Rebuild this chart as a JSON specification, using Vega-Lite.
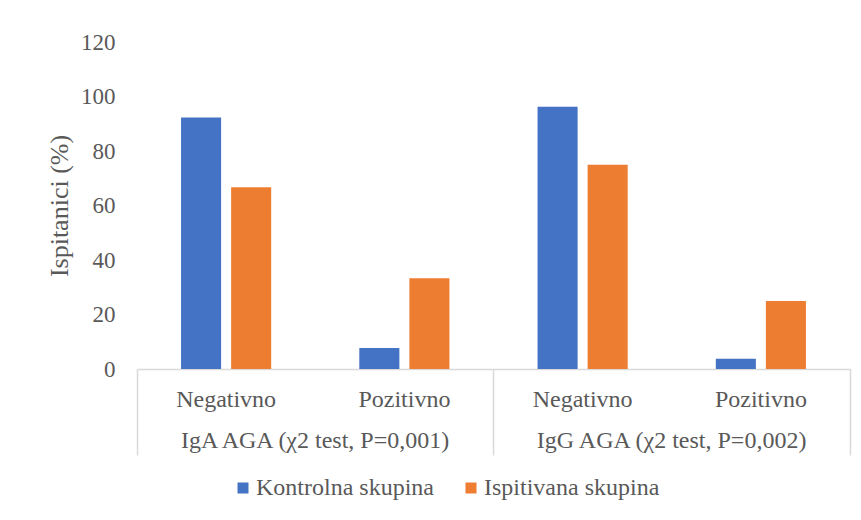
{
  "$schema": "https://vega.github.io/schema/vega-lite/v6.json",
  "width": 713,
  "height": 327,
  "autosize": {"type": "none"},
  "padding": {"left": 137, "top": 42, "right": 11, "bottom": 151},
  "background": "white",
  "config": {
    "font": "Liberation Serif",
    "view": {"stroke": null},
    "axis": {
      "labelFont": "Liberation Serif",
      "labelFontSize": 24,
      "labelColor": "#595959",
      "titleFont": "Liberation Serif",
      "titleFontSize": 26,
      "titleColor": "#595959",
      "titleFontWeight": "normal",
      "domainColor": "#D9D9D9",
      "tickColor": "#D9D9D9"
    },
    "legend": {
      "labelFont": "Liberation Serif",
      "labelFontSize": 24,
      "labelColor": "#595959"
    }
  },
  "data": {
    "values": [
      {"kategorija": "IgA AGA (χ2 test, P=0,001)|Negativno", "skupina": "Kontrolna skupina", "postotak": 92.3},
      {"kategorija": "IgA AGA (χ2 test, P=0,001)|Negativno", "skupina": "Ispitivana skupina", "postotak": 66.7},
      {"kategorija": "IgA AGA (χ2 test, P=0,001)|Pozitivno", "skupina": "Kontrolna skupina", "postotak": 7.7},
      {"kategorija": "IgA AGA (χ2 test, P=0,001)|Pozitivno", "skupina": "Ispitivana skupina", "postotak": 33.3},
      {"kategorija": "IgG AGA (χ2 test, P=0,002)|Negativno", "skupina": "Kontrolna skupina", "postotak": 96.2},
      {"kategorija": "IgG AGA (χ2 test, P=0,002)|Negativno", "skupina": "Ispitivana skupina", "postotak": 75.0},
      {"kategorija": "IgG AGA (χ2 test, P=0,002)|Pozitivno", "skupina": "Kontrolna skupina", "postotak": 3.8},
      {"kategorija": "IgG AGA (χ2 test, P=0,002)|Pozitivno", "skupina": "Ispitivana skupina", "postotak": 25.0}
    ]
  },
  "encoding": {
    "y": {
      "field": "postotak",
      "type": "quantitative",
      "stack": null,
      "scale": {"domain": [0, 120], "nice": false},
      "axis": {
        "title": "Ispitanici (%)",
        "values": [0, 20, 40, 60, 80, 100, 120],
        "grid": false,
        "domain": false,
        "ticks": false,
        "tickSize": 0,
        "labelFontSize": 23,
        "labelPadding": 22,
        "titlePadding": 8
      }
    }
  },
  "layer": [
    {
      "mark": {"type": "bar"},
      "encoding": {
        "x": {
          "field": "kategorija",
          "type": "nominal",
          "sort": null,
          "scale": {"paddingInner": 0, "paddingOuter": 0},
          "axis": {
            "orient": "bottom",
            "title": null,
            "labelExpr": "split(datum.value, '|')[1]",
            "labelAngle": 0,
            "ticks": false,
            "tickSize": 0,
            "domain": true,
            "domainWidth": 1.5,
            "labelPadding": 18,
            "labelLimit": 0
          }
        },
        "xOffset": {
          "field": "skupina",
          "type": "nominal",
          "scale": {"domain": ["Kontrolna skupina", "Ispitivana skupina"], "paddingInner": 0.2, "paddingOuter": 0.88}
        },
        "color": {
          "field": "skupina",
          "type": "nominal",
          "scale": {"domain": ["Kontrolna skupina", "Ispitivana skupina"], "range": ["#4472C4", "#ED7D31"]},
          "legend": {
            "title": null,
            "orient": "none",
            "direction": "horizontal",
            "legendX": 94,
            "legendY": 434,
            "symbolType": "square",
            "symbolSize": 121,
            "symbolStrokeWidth": 0,
            "labelOffset": 1,
            "columnPadding": 25,
            "labelLimit": 0
          }
        }
      }
    },
    {
      "mark": {"type": "bar", "opacity": 0},
      "encoding": {
        "x": {
          "field": "kategorija",
          "type": "nominal",
          "sort": null,
          "scale": {"paddingInner": 0, "paddingOuter": 0},
          "axis": {
            "orient": "bottom",
            "title": null,
            "values": ["IgA AGA (χ2 test, P=0,001)|Negativno", "IgG AGA (χ2 test, P=0,002)|Negativno"],
            "labelExpr": "split(datum.value, '|')[0]",
            "labelAngle": 0,
            "labelAlign": "center",
            "labelOffset": 89,
            "ticks": false,
            "tickSize": 0,
            "domain": false,
            "labelPadding": 59,
            "labelLimit": 0
          }
        }
      }
    },
    {
      "mark": {"type": "bar", "opacity": 0},
      "encoding": {
        "x": {
          "field": "kategorija",
          "type": "nominal",
          "sort": null,
          "scale": {"paddingInner": 0, "paddingOuter": 0},
          "axis": {
            "orient": "bottom",
            "title": null,
            "values": ["IgA AGA (χ2 test, P=0,001)|Negativno", "IgG AGA (χ2 test, P=0,002)|Negativno"],
            "bandPosition": 0,
            "labels": false,
            "ticks": true,
            "tickSize": 86,
            "tickWidth": 1.5,
            "domain": false
          }
        }
      }
    },
    {
      "mark": {"type": "bar", "opacity": 0},
      "encoding": {
        "x": {
          "field": "kategorija",
          "type": "nominal",
          "sort": null,
          "scale": {"paddingInner": 0, "paddingOuter": 0},
          "axis": {
            "orient": "bottom",
            "title": null,
            "values": ["IgG AGA (χ2 test, P=0,002)|Pozitivno"],
            "bandPosition": 1,
            "labels": false,
            "ticks": true,
            "tickSize": 86,
            "tickWidth": 1.5,
            "domain": false
          }
        }
      }
    }
  ],
  "resolve": {"axis": {"x": "independent"}}
}
